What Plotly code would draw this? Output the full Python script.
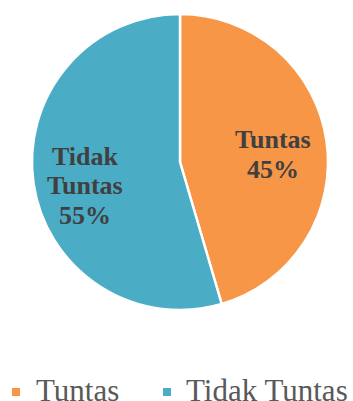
import plotly.graph_objects as go

labels = ["Tuntas", "Tidak Tuntas"]
values = [15, 18]
label_lines = [["Tuntas"], ["Tidak", "Tuntas"]]
colors = ["#F79646", "#4BACC6"]

W, H = 353, 401
TOP = 10
FONT = "Liberation Serif"


def px_y(y):
    return (H - y) / (H - TOP)


def px_x(x):
    return x / W


fig = go.Figure(go.Pie(
    labels=labels,
    values=values,
    textinfo="none",
    sort=False,
    direction="clockwise",
    rotation=0,
    marker=dict(colors=colors, line=dict(color="white", width=2.5)),
    domain=dict(x=[px_x(32), px_x(328)], y=[px_y(310), px_y(14)]),
    hoverinfo="label+percent",
    showlegend=False,
))

# data labels, one annotation per line for the tight line spacing
total = sum(values)
label_anchor = [(273, 140), (85, 156)]
line_step = 29.5
for lines, v, (cx, cy) in zip(label_lines, values, label_anchor):
    all_lines = lines + [f"{round(100 * v / total)}%"]
    for i, ln in enumerate(all_lines):
        fig.add_annotation(
            x=px_x(cx), y=px_y(cy + i * line_step), xref="paper", yref="paper",
            xanchor="center", yanchor="middle",
            text=f"<b>{ln}</b>", showarrow=False,
            font=dict(family=FONT, size=26, color="#404040"),
        )

# legend: swatch + text for each category
legend_swatch_x = [12, 163]
legend_text_x = [34, 184]
for name, c, sx, tx in zip(labels, colors, legend_swatch_x, legend_text_x):
    fig.add_shape(type="rect", xref="paper", yref="paper",
                  x0=px_x(sx), x1=px_x(sx + 8), y0=px_y(396), y1=px_y(388),
                  fillcolor=c, line=dict(width=0))
    fig.add_annotation(
        x=px_x(tx), y=px_y(390), xref="paper", yref="paper",
        xanchor="left", yanchor="middle", text=name, showarrow=False,
        font=dict(family=FONT, size=31, color="#595959"),
    )

fig.update_layout(
    width=W, height=H,
    margin=dict(l=0, r=0, t=TOP, b=0),
    font=dict(family=FONT),
)
fig.write_html("out.html")
